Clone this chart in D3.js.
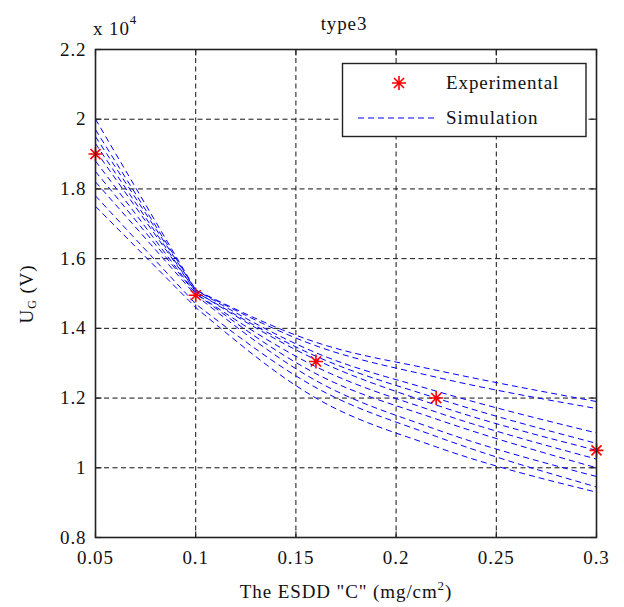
<!DOCTYPE html>
<html><head><meta charset="utf-8">
<script src="https://cdn.jsdelivr.net/npm/d3@7"></script>
<style>body{margin:0;background:#fff}svg{display:block}text{letter-spacing:0.9px}</style>
</head><body>
<svg id="c" width="624" height="607"></svg>
<script>
// ---- data ----
const xTicks = [0.05, 0.1, 0.15, 0.2, 0.25, 0.3];
const yTicks = [0.8, 1, 1.2, 1.4, 1.6, 1.8, 2, 2.2];
const expX = [0.05, 0.1, 0.16, 0.22, 0.3];
const expY = [1.90, 1.495, 1.305, 1.20, 1.05];
const simX = [0.05, 0.1, 0.16, 0.22, 0.3];
const sim1  = [2.00, 1.51, 1.36, 1.28, 1.19];
const sim2  = [1.97, 1.51, 1.35, 1.26, 1.17];
const sim3  = [1.95, 1.51, 1.33, 1.22, 1.10];
const sim4  = [1.93, 1.505, 1.32, 1.20, 1.07];
const sim5  = [1.91, 1.505, 1.31, 1.18, 1.05];
const sim6  = [1.88, 1.50, 1.29, 1.16, 1.025];
const sim7  = [1.85, 1.50, 1.27, 1.14, 1.00];
const sim8  = [1.82, 1.495, 1.25, 1.11, 0.975];
const sim9  = [1.78, 1.47, 1.23, 1.09, 0.945];
const sim10 = [1.75, 1.46, 1.20, 1.06, 0.93];
const simSeries = [sim1, sim2, sim3, sim4, sim5, sim6, sim7, sim8, sim9, sim10];
const title = "type3";
const legendLabels = ["Experimental", "Simulation"];

// ---- layout ----
const svg = d3.select("#c");
const L = 95.5, R = 596.5, T = 49.5, B = 537.5;
const x = d3.scaleLinear().domain([0.05, 0.3]).range([L, R]);
const y = d3.scaleLinear().domain([0.8, 2.2]).range([B, T]);
const font = "Liberation Serif, Times New Roman, serif";
const fs = 19;

// grid
const grid = svg.append("g").attr("stroke", "#111").attr("stroke-width", 1).attr("stroke-dasharray", "5,3.5");
xTicks.slice(1, -1).forEach(t => grid.append("line").attr("x1", x(t)).attr("x2", x(t)).attr("y1", T).attr("y2", B));
yTicks.slice(1, -1).forEach(t => grid.append("line").attr("y1", y(t)).attr("y2", y(t)).attr("x1", L).attr("x2", R));

// ticks inward
const tk = svg.append("g").attr("stroke", "#222").attr("stroke-width", 1.2);
xTicks.forEach(t => {
  tk.append("line").attr("x1", x(t)).attr("x2", x(t)).attr("y1", B).attr("y2", B - 6);
  tk.append("line").attr("x1", x(t)).attr("x2", x(t)).attr("y1", T).attr("y2", T + 6);
});
yTicks.forEach(t => {
  tk.append("line").attr("y1", y(t)).attr("y2", y(t)).attr("x1", L).attr("x2", L + 6);
  tk.append("line").attr("y1", y(t)).attr("y2", y(t)).attr("x1", R).attr("x2", R - 6);
});

// clip
svg.append("clipPath").attr("id", "clp").append("rect").attr("x", L).attr("y", T).attr("width", R - L).attr("height", B - T);

// simulation lines
const mono = d3.line().x(d => x(d[0])).y(d => y(d[1])).curve(d3.curveMonotoneX);
const simG = svg.append("g").attr("clip-path", "url(#clp)");
simSeries.forEach(s => {
  const pts = simX.map((v, i) => [v, s[i]]);
  const rest = mono(pts.slice(1));
  const d = `M${x(pts[0][0])},${y(pts[0][1])}L` + rest.slice(1);
  simG.append("path").attr("d", d).attr("fill", "none").attr("stroke", "#0000ff")
    .attr("stroke-width", 1).attr("stroke-dasharray", "6,4");
});

// star marker
function star(g, cx, cy, r) {
  const d = r * 0.72;
  const p = `M${cx - r},${cy}L${cx + r},${cy}M${cx},${cy - r}L${cx},${cy + r}` +
            `M${cx - d},${cy - d}L${cx + d},${cy + d}M${cx - d},${cy + d}L${cx + d},${cy - d}`;
  g.append("path").attr("d", p).attr("stroke", "#ff0000").attr("stroke-width", 1.6).attr("fill", "none");
}
const stG = svg.append("g");
expX.forEach((v, i) => star(stG, x(v), y(expY[i]), 7));

// frame
svg.append("rect").attr("x", L).attr("y", T).attr("width", R - L).attr("height", B - T)
  .attr("fill", "none").attr("stroke", "#222").attr("stroke-width", 1.6);

// tick labels
const tl = svg.append("g").attr("font-family", font).attr("font-size", fs).attr("fill", "#111");
xTicks.forEach(t => tl.append("text").attr("x", x(t)).attr("y", B + 26).attr("text-anchor", "middle").text(d3.format("~g")(t)));
yTicks.forEach(t => tl.append("text").attr("x", L - 9).attr("y", y(t) + 6).attr("text-anchor", "end").text(d3.format("~g")(t)));

// exponent
const ex = svg.append("text").attr("font-family", font).attr("font-size", fs).attr("fill", "#111").attr("x", 93).attr("y", 35);
ex.append("tspan").text("x 10");
ex.append("tspan").attr("font-size", 13).attr("dy", -11).text("4");

// title
svg.append("text").attr("font-family", font).attr("font-size", fs).attr("fill", "#111")
  .attr("x", 344).attr("y", 30).attr("text-anchor", "middle").text(title);

// x label
const xl = svg.append("text").attr("font-family", font).attr("font-size", fs).attr("fill", "#111")
  .attr("x", 346).attr("y", 598).attr("text-anchor", "middle");
xl.append("tspan").text('The ESDD "C" (mg/cm');
xl.append("tspan").attr("font-size", 13).attr("dy", -8).text("2");
xl.append("tspan").attr("dy", 8).text(")");

// y label
const yl = svg.append("text").attr("font-family", font).attr("font-size", fs).attr("fill", "#111")
  .attr("transform", "translate(33,294) rotate(-90)").attr("text-anchor", "middle");
yl.append("tspan").text("U");
yl.append("tspan").attr("font-size", 12).attr("dy", 3).text("G");
yl.append("tspan").attr("dy", -3).text(" (V)");

// legend
const lg = svg.append("g");
lg.append("rect").attr("x", 342.5).attr("y", 63.5).attr("width", 243.5).attr("height", 73)
  .attr("fill", "#fff").attr("stroke", "#222").attr("stroke-width", 1.4);
star(lg, 399, 83, 7);
lg.append("line").attr("x1", 358).attr("x2", 437).attr("y1", 118).attr("y2", 118)
  .attr("stroke", "#0000ff").attr("stroke-width", 1).attr("stroke-dasharray", "6,4");
lg.append("text").attr("font-family", font).attr("font-size", fs).attr("fill", "#111")
  .attr("x", 446).attr("y", 89).text(legendLabels[0]);
lg.append("text").attr("font-family", font).attr("font-size", fs).attr("fill", "#111")
  .attr("x", 446).attr("y", 124).text(legendLabels[1]);
</script>
</body></html>
